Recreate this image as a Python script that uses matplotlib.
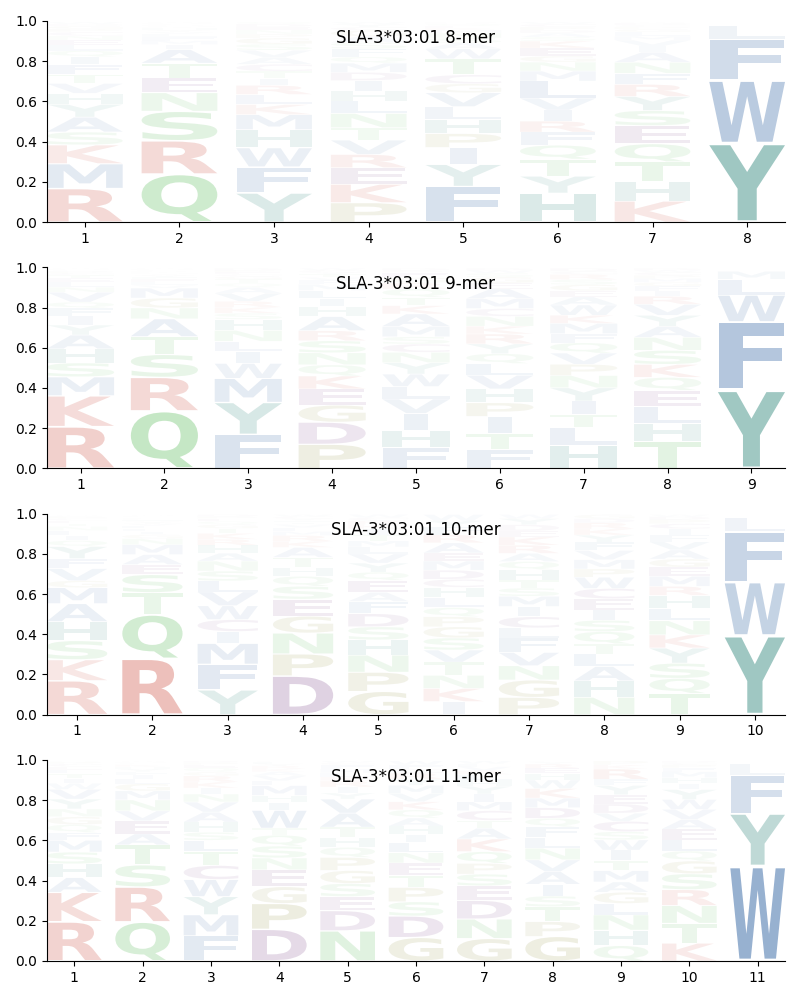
import matplotlib
matplotlib.use("Agg")
import matplotlib.pyplot as plt
from matplotlib.font_manager import FontProperties
from matplotlib.patches import PathPatch
from matplotlib.textpath import TextPath
from matplotlib.transforms import Affine2D

allele = "SLA-3*03:01"

# letters go bottom to top at each position
letters_8 = ["RMKSAYHVTFIQLENCPGDW", "QRSNETAIMFLVYHKGPCDW", "YFWHMKLRITCAVSGPNEDQ", "PKERVTNLHIDMQFSAGCYW",
             "FYIPHLVGCTWASNMKEQRD", "HYTQFRIVLMNGEKSADPCW", "KHTQESYRFNAIVMLGPCDW", "YWFLMVIHTAGSNQKRPEDC"]
heights_8 = [[.17, .125, .095, .065, .075, .065, .055, .05, .045, .05, .04, .03, .03, .025, .02, .02, .015, .015, .01, .01],
             [.245, .17, .15, .095, .075, .075, .07, .025, .02, .02, .015, .01, .01, .01, .005, .005, .005, .005, .005, .005],
             [.145, .13, .095, .09, .075, .05, .05, .045, .035, .035, .035, .035, .035, .03, .03, .02, .02, .015, .015, .01],
             [.095, .09, .08, .065, .07, .06, .07, .06, .05, .05, .04, .045, .03, .04, .03, .03, .03, .015, .015, .01],
             [.18, .11, .085, .07, .07, .065, .07, .045, .045, .08, .05, .03, .025, .025, .015, .01, .01, .01, .005, .005],
             [.145, .085, .085, .07, .065, .055, .055, .06, .085, .05, .045, .03, .04, .035, .02, .02, .015, .015, .015, .01],
             [.105, .095, .1, .09, .09, .075, .07, .06, .055, .055, .05, .03, .03, .02, .02, .015, .01, .01, .01, .005],
             [.395, .315, .205, .07, .002, .001, .001, .001, .001, .001, .001, .001, .001, .001, .001, .001, .001, .001, .001, .001]]

letters_9 = ["RKMSHAYIFQVNLETCPGDW", "QRSTANGMVLEFYIHKPCDW", "FYMWILNHSKRVAQTGCEPD", "PDGEKQNSRAHILMFVTYCW",
             "FHIVLWYNCSMAKTQRGEPD", "FTIPHVLQYRKNCMAEGSWD", "HLTIYNPVQFMKWAEGSRCD", "THLEQKSNAYVRIFGMPCWD",
             "YFWLMHVIAGTSQNKRPEDC"]
heights_9 = [[.21, .155, .095, .07, .07, .07, .05, .045, .04, .03, .05, .025, .025, .02, .015, .01, .01, .005, .005, .005],
             [.29, .17, .115, .09, .09, .055, .05, .05, .015, .015, .015, .01, .01, .005, .005, .005, .005, .005, .005, .005],
             [.17, .16, .12, .075, .06, .05, .055, .055, .03, .03, .03, .04, .03, .02, .02, .015, .01, .01, .01, .01],
             [.12, .11, .085, .08, .065, .055, .06, .06, .05, .07, .05, .04, .04, .03, .02, .015, .015, .01, .01, .01],
             [.1, .085, .08, .07, .06, .06, .055, .05, .04, .035, .05, .06, .04, .04, .04, .03, .025, .025, .01, .01],
             [.095, .085, .085, .07, .07, .07, .06, .05, .05, .05, .04, .05, .04, .05, .05, .03, .03, .02, .015, .01],
             [.115, .085, .065, .065, .065, .06, .055, .055, .05, .045, .05, .04, .05, .04, .03, .03, .025, .025, .015, .015],
             [.135, .09, .085, .08, .065, .065, .07, .065, .055, .055, .055, .04, .025, .025, .02, .02, .015, .015, .01, .01],
             [.395, .345, .135, .08, .04, .001, .001, .001, .001, .001, .001, .001, .001, .001, .001, .001, .001, .001, .001, .001]]

letters_10 = ["RKSHAMGVFYQILNTECPDW", "RQTSEAMNGIFLVYHKPCDW", "YFMICWVLSNAHRKTGQEPD", "DPNGESQHTAKRMLVIFYCW",
              "GPNHSDFAEQYVLMTIKRCW", "IKNTVSGPQLHCDMEARFYW", "PGNVFLCIMSTHQARKEDYW", "NHALTQSIECWPMVFYKRDG",
              "TQSYKNLHRMEGAVFICPDW", "YWFLMVIHTAGSNQKRPEDC"]
heights_10 = [[.17, .105, .095, .095, .09, .08, .035, .06, .05, .06, .03, .025, .025, .02, .015, .015, .01, .01, .005, .005],
              [.28, .22, .11, .09, .05, .05, .05, .03, .02, .015, .015, .015, .01, .01, .01, .005, .005, .005, .005, .005],
              [.125, .13, .105, .06, .06, .07, .07, .055, .05, .05, .04, .04, .03, .03, .025, .02, .015, .015, .01, .01],
              [.195, .11, .105, .085, .085, .065, .05, .045, .05, .05, .03, .03, .02, .02, .015, .01, .01, .01, .01, .01],
              [.115, .095, .085, .075, .065, .065, .06, .045, .06, .04, .045, .045, .035, .03, .03, .03, .02, .02, .015, .015],
              [.065, .065, .065, .065, .06, .06, .055, .05, .045, .05, .05, .04, .045, .045, .04, .05, .04, .04, .03, .03],
              [.085, .085, .07, .065, .07, .05, .055, .05, .05, .04, .04, .05, .04, .04, .04, .04, .03, .03, .03, .02],
              [.085, .08, .07, .06, .05, .06, .055, .05, .055, .05, .055, .04, .045, .045, .04, .035, .03, .03, .02, .02],
              [.105, .075, .075, .075, .065, .07, .06, .065, .045, .05, .045, .04, .045, .04, .035, .03, .025, .02, .015, .01],
              [.4, .27, .255, .07, .001, .001, .001, .001, .001, .001, .001, .001, .001, .001, .001, .001, .001, .001, .001, .001]]

letters_11 = ["RKAHSMFQGNYVWITLECPD", "QRSTAEVNMGLIFYHKPCDW", "FMYWCTLSHAVNIKRGQEPD", "DPGENSQTWIHMLVAKRYFC",
              "NDESGPQHTAVYIRKLMFCW", "GDSPTENLIHAQKVMYRCFW", "GNDESPQKATCMIYHLRVFW", "GPTSIAVNLFQDMKWHERYC",
              "QHNLGAMTIWSCVDEYFRKP", "KTNRSGQLEAVWYIHMFPCD", "WYFLMVIHTAGSNQKRPEDC"]
heights_11 = [[.2, .15, .075, .07, .06, .06, .04, .04, .04, .04, .05, .05, .03, .025, .025, .02, .015, .015, .01, .005],
              [.195, .175, .11, .1, .055, .065, .05, .055, .045, .035, .025, .02, .015, .015, .01, .01, .005, .005, .005, .005],
              [.125, .105, .09, .085, .07, .07, .055, .04, .05, .05, .05, .04, .03, .03, .03, .02, .02, .015, .01, .01],
              [.16, .13, .085, .085, .06, .06, .055, .035, .09, .04, .035, .05, .025, .025, .02, .015, .015, .01, .01, .005],
              [.15, .1, .07, .065, .065, .065, .05, .05, .05, .07, .07, .03, .03, .03, .02, .02, .02, .02, .01, .01],
              [.115, .105, .07, .07, .06, .06, .05, .05, .04, .04, .04, .04, .04, .04, .04, .03, .03, .02, .02, .02],
              [.115, .1, .095, .075, .06, .055, .06, .065, .055, .04, .05, .045, .04, .04, .03, .03, .02, .02, .015, .015],
              [.115, .07, .07, .05, .055, .06, .055, .055, .05, .05, .04, .05, .045, .045, .04, .03, .025, .02, .01, .005],
              [.075, .075, .075, .055, .055, .05, .055, .05, .05, .05, .04, .05, .04, .045, .045, .045, .03, .05, .02, .02],
              [.09, .1, .09, .08, .08, .065, .05, .055, .055, .05, .05, .05, .05, .03, .03, .03, .02, .015, .01, .01],
              [.48, .265, .195, .055, .001, .001, .001, .001, .001, .001, .001, .001, .001, .001, .001, .001, .001, .001, .001, .001]]

lengths = [8, 9, 10, 11]
panel_letters = [letters_8, letters_9, letters_10, letters_11]
panel_heights = [heights_8, heights_9, heights_10, heights_11]

colors = {}
for c in "RK":
    colors[c] = "#c32a19"
for c in "QNST":
    colors[c] = "#3eb03e"
for c in "DEC":
    colors[c] = "#642373"
for c in "GP":
    colors[c] = "#7c7c1a"
for c in "FWMLVAI":
    colors[c] = "#2e61a1"
for c in "YH":
    colors[c] = "#16786b"

font = FontProperties(family="DejaVu Sans", weight="bold")
e_width = TextPath((0, 0), "E", size=1, prop=font).get_extents().width


def draw_letter(ax, c, x, y, h, width=0.8, vpad=0.025):
    path = TextPath((0, 0), c, size=1, prop=font)
    box = path.get_extents()
    # narrow glyphs like I are not stretched more than E
    sx = min(width / box.width, width / e_width)
    sy = h * (1 - 2 * vpad) / box.height
    t = Affine2D().translate(-box.x0 - box.width / 2, -box.y0).scale(sx, sy).translate(x, y + h * vpad)
    ax.add_patch(PathPatch(path, transform=t + ax.transData, facecolor=colors[c], edgecolor="none",
                           linewidth=0, alpha=min(1.0, h * 1.05)))


fig, axes = plt.subplots(4, 1, figsize=(8, 10))
fig.subplots_adjust(left=0.05875, right=0.98125, top=0.979, bottom=0.039, hspace=0.224)

for ax, n, letters, heights in zip(axes, lengths, panel_letters, panel_heights):
    for i in range(n):
        total = sum(heights[i])
        y = 0
        for c, v in zip(letters[i], heights[i]):
            h = v / total * 0.995
            draw_letter(ax, c, i + 1, y, h)
            y += h
    ax.set_xlim(0.6, n + 0.4)
    ax.set_ylim(0, 1)
    ax.set_xticks(range(1, n + 1))
    ax.set_yticks([0, 0.2, 0.4, 0.6, 0.8, 1.0])
    ax.spines["top"].set_visible(False)
    ax.spines["right"].set_visible(False)
    ax.text(0.5, 0.917, f"{allele} {n}-mer", transform=ax.transAxes, ha="center", va="center", fontsize=12)

plt.savefig("out.png", dpi=100)
